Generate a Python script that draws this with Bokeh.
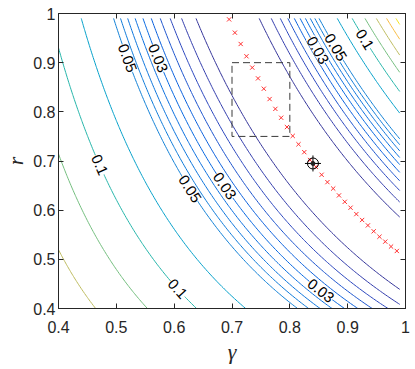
import numpy as np
from bokeh.plotting import figure
from bokeh.models import FixedTicker, LinearAxis, Range1d, ColumnDataSource
from bokeh.core.properties import value
from bokeh.embed import file_html
from bokeh.resources import INLINE

# ---------------- data ----------------
levels = [0.005, 0.01, 0.015, 0.02, 0.025, 0.03, 0.035, 0.04, 0.045, 0.05,
          0.075, 0.1, 0.125, 0.15, 0.175, 0.2]

x_ticks = [0.4, 0.5, 0.6, 0.7, 0.8, 0.9, 1.0]
x_tick_labels = ["0.4", "0.5", "0.6", "0.7", "0.8", "0.9", "1"]
y_ticks = [0.4, 0.5, 0.6, 0.7, 0.8, 0.9, 1.0]
y_tick_labels = ["0.4", "0.5", "0.6", "0.7", "0.8", "0.9", "1"]

# surface estimated from the contour lines: value = k * (r*gamma^a - c)^2
valley_exponent = 1.857
valley_constant = 0.503
curvature_at_04 = 0.90
curvature_at_10 = 0.96

grid_gamma = np.linspace(0.40, 0.99, 119)
grid_r = np.linspace(0.40, 0.99, 119)

path_gamma = [0.695, 0.705, 0.715, 0.725, 0.735, 0.745, 0.755, 0.765, 0.775, 0.785,
              0.795, 0.805, 0.815, 0.825, 0.835, 0.845, 0.855, 0.865, 0.875, 0.885,
              0.895, 0.905, 0.915, 0.925, 0.935, 0.945, 0.955, 0.965, 0.975, 0.985]
path_r = [0.988, 0.961, 0.938, 0.913, 0.890, 0.868, 0.847, 0.826, 0.806, 0.788,
          0.769, 0.751, 0.734, 0.718, 0.702, 0.688, 0.672, 0.657, 0.644, 0.630,
          0.617, 0.605, 0.592, 0.580, 0.569, 0.557, 0.546, 0.536, 0.526, 0.517]

best_gamma = [0.84]
best_r = [0.695]

box_gamma = [0.7, 0.8]
box_r = [0.75, 0.9]

label_level = [0.05, 0.03, 0.1, 0.05, 0.03, 0.1, 0.03, 0.03, 0.05, 0.1]
label_side = [-1, -1, -1, -1, -1, -1, -1, 1, 1, 1]
label_r = [0.909, 0.909, 0.692, 0.643, 0.649, 0.440, 0.436, 0.925, 0.931, 0.947]
label_text = ["0.05", "0.03", "0.1", "0.05", "0.03", "0.1", "0.03", "0.03", "0.05", "0.1"]

# parula colormap anchors
parula = [(0.2081, 0.1663, 0.5292), (0.1959, 0.2645, 0.7279), (0.0117, 0.3875, 0.8820),
          (0.0498, 0.4586, 0.8641), (0.0793, 0.5200, 0.8312), (0.0343, 0.5966, 0.8199),
          (0.0228, 0.6535, 0.7768), (0.0843, 0.6928, 0.7062), (0.2178, 0.7250, 0.6193),
          (0.3953, 0.7459, 0.5244), (0.5709, 0.7485, 0.4494), (0.7184, 0.7411, 0.3905),
          (0.8507, 0.7299, 0.3360), (0.9739, 0.7314, 0.2666), (0.9880, 0.8066, 0.1794),
          (0.9589, 0.8949, 0.1132), (0.9763, 0.9831, 0.0538)]
parula_pos = [0, 4, 8, 12, 16, 20, 24, 28, 32, 36, 40, 44, 48, 52, 56, 60, 63]

# ---------------- computations ----------------
def curvature(g):
    return curvature_at_04 + (curvature_at_10 - curvature_at_04) * (g - 0.4) / 0.6

def surface(g, r):
    return curvature(g) * (r * g ** valley_exponent - valley_constant) ** 2

G, R = np.meshgrid(grid_gamma, grid_r)
Z = surface(G, R)
zmin, zmax = float(Z.min()), float(Z.max())

def parula_color(t):
    t = min(max(t, 0.0), 1.0) * 63
    pos = np.array(parula_pos, dtype=float)
    arr = np.array(parula)
    rgb = [np.interp(t, pos, arr[:, i]) for i in range(3)]
    return "#%02x%02x%02x" % tuple(int(round(255 * c)) for c in rgb)

level_colors = [parula_color((lv - zmin) / (zmax - zmin)) for lv in levels]

frame_w, frame_h = 350, 296
sx, sy = frame_w / 0.6, frame_h / 0.6

lab_x, lab_y, lab_a = [], [], []
for lv, sd, rr in zip(label_level, label_side, label_r):
    g = 0.7
    for _ in range(30):
        w = sd * np.sqrt(lv / curvature(g))
        g = ((valley_constant + w) / rr) ** (1.0 / valley_exponent)
    eps = 1e-5
    dzg = (surface(g + eps, rr) - surface(g - eps, rr)) / (2 * eps)
    dzr = (surface(g, rr + eps) - surface(g, rr - eps)) / (2 * eps)
    tx, ty = dzr / sy, -dzg / sx
    ang = np.arctan2(ty, tx)
    if ang > np.pi / 2:
        ang -= np.pi
    if ang < -np.pi / 2:
        ang += np.pi
    lab_x.append(g)
    lab_y.append(rr)
    lab_a.append(ang)

# ---------------- figure ----------------
axis_color = "#262626"
p = figure(width=410, height=366, x_range=Range1d(0.4, 1.0), y_range=Range1d(0.4, 1.0),
           output_backend="svg", toolbar_location=None,
           min_border_left=55, min_border_right=5, min_border_top=13, min_border_bottom=57)
p.xgrid.visible = False
p.ygrid.visible = False
p.outline_line_color = axis_color
p.background_fill_color = "white"
p.border_fill_color = "white"

p.contour(G, R, Z, levels, line_color=level_colors, line_width=1)

p.quad(left=[box_gamma[0]], right=[box_gamma[1]], bottom=[box_r[0]], top=[box_r[1]],
       fill_color=None, line_color="#3a3a3a", line_dash="7 4", line_width=1)

p.scatter(path_gamma, path_r, marker="x", size=6, line_color="#ff3030", line_width=1)

p.scatter(best_gamma, best_r, marker="circle", size=11, fill_color=None,
          line_color="black", line_width=1)
p.scatter(best_gamma, best_r, marker="cross", size=16, line_color="black", line_width=1)
p.scatter(best_gamma, best_r, marker="circle", size=4, fill_color="#222222",
          line_color="#222222")

src = ColumnDataSource(dict(x=lab_x, y=lab_y, angle=lab_a, text=label_text))
p.text(x="x", y="y", text="text", angle="angle", source=src,
       text_font=value("Liberation Sans"), text_font_size="15px",
       text_align="center", text_baseline="middle", text_color="black",
       background_fill_color="white")

def style_axis(ax, ticks, labels, show_labels):
    ax.ticker = FixedTicker(ticks=ticks)
    ax.major_tick_in = 5
    ax.major_tick_out = 0
    ax.minor_tick_line_color = None
    ax.axis_line_color = axis_color
    ax.major_tick_line_color = axis_color
    if show_labels:
        ax.major_label_overrides = {t: l for t, l in zip(ticks, labels)}
        ax.major_label_text_color = axis_color
        ax.major_label_text_font = "Liberation Sans"
        ax.major_label_text_font_size = "16px"
    else:
        ax.major_label_text_font_size = "0px"
        ax.major_label_text_color = None
        ax.major_label_standoff = 0

style_axis(p.xaxis[0], x_ticks, x_tick_labels, True)
style_axis(p.yaxis[0], y_ticks, y_tick_labels, True)
p.xaxis[0].major_label_standoff = 12
p.yaxis[0].major_label_standoff = 3

for ax, txt, sd in ((p.xaxis[0], "γ", 3), (p.yaxis[0], "r", 2)):
    ax.axis_label = txt
    ax.axis_label_standoff = sd
    ax.axis_label_text_font = "Liberation Serif"
    ax.axis_label_text_font_style = "italic"
    ax.axis_label_text_font_size = "22px"
    ax.axis_label_text_color = axis_color

top_axis = LinearAxis()
style_axis(top_axis, x_ticks, x_tick_labels, False)
p.add_layout(top_axis, "above")
right_axis = LinearAxis()
style_axis(right_axis, y_ticks, y_tick_labels, False)
p.add_layout(right_axis, "right")

open("out.html", "w").write(file_html(p, INLINE))
